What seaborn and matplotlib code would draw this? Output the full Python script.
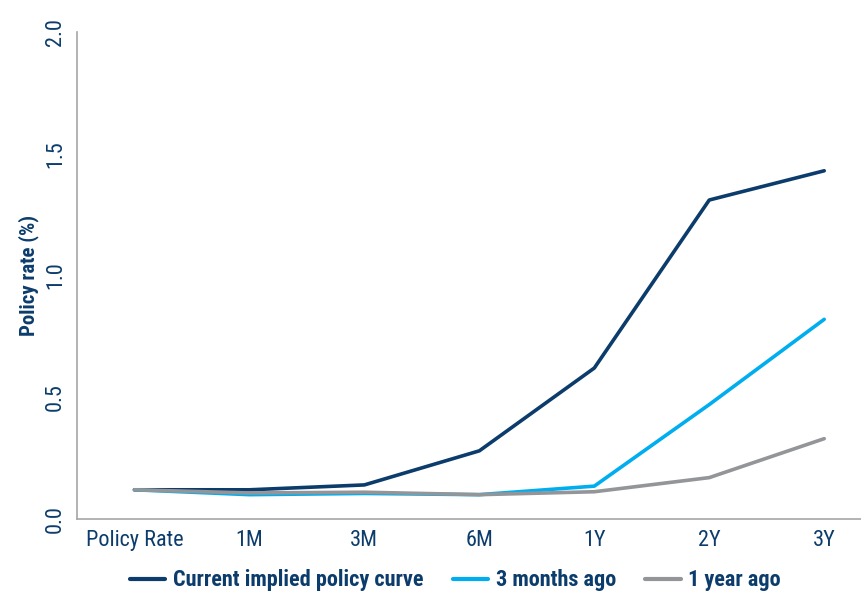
import matplotlib
matplotlib.use("Agg")
import matplotlib.pyplot as plt
import seaborn as sns
import pandas as pd

tenors = ["Policy Rate", "1M", "3M", "6M", "1Y", "2Y", "3Y"]
current = [0.12, 0.12, 0.14, 0.28, 0.62, 1.31, 1.43]
three_months = [0.12, 0.10, 0.105, 0.10, 0.135, 0.47, 0.82]
one_year = [0.12, 0.107, 0.11, 0.10, 0.112, 0.17, 0.33]
series_names = ["Current implied policy curve", "3 months ago", "1 year ago"]
colors = ["#0b3c6b", "#00aeef", "#939598"]
yticks = [0.0, 0.5, 1.0, 1.5, 2.0]

sns.set_theme(style="white")
plt.rcParams["font.family"] = ["Roboto Condensed", "DejaVu Sans"]

rows = []
for name, vals in zip(series_names, [current, three_months, one_year]):
    for t, v in zip(tenors, vals):
        rows.append({"Tenor": t, "Rate": v, "Series": name})
df = pd.DataFrame(rows)

text_color = "#0b3c6b"
fig = plt.figure(figsize=(8.61, 5.91), dpi=100)
ax = fig.add_axes([0.0894, 0.1218, 0.9106, 0.8241])
sns.lineplot(data=df, x="Tenor", y="Rate", hue="Series", hue_order=series_names,
             palette=colors, linewidth=2.6, ax=ax, sort=False, legend=True)

ax.set_ylim(0, 2.0)
ax.set_xlim(-0.5, 6.32)
ax.set_yticks(yticks)
ax.set_yticklabels([f"{v:.1f}" for v in yticks], rotation=90, va="center")
ax.tick_params(axis="both", labelsize=16, colors=text_color, length=0, pad=8)
ax.set_xlabel("")
ax.set_ylabel("Policy rate (%)", fontsize=15, fontweight="bold", color=text_color, labelpad=4)
for s in ["top", "right"]:
    ax.spines[s].set_visible(False)
for s in ["left", "bottom"]:
    ax.spines[s].set_color("#a6a6a6")
    ax.spines[s].set_linewidth(1.2)

handles, labels = ax.get_legend_handles_labels()
ax.get_legend().remove()
leg = fig.legend(handles, labels, loc="center", bbox_to_anchor=(0.529, 0.018), ncol=3,
                 frameon=False, fontsize=16, handlelength=1.6, columnspacing=1.3,
                 handletextpad=0.35)
for t in leg.get_texts():
    t.set_color(text_color)
    t.set_fontweight("bold")
for l in leg.get_lines():
    l.set_linewidth(3)

fig.savefig("out.png", dpi=100)
